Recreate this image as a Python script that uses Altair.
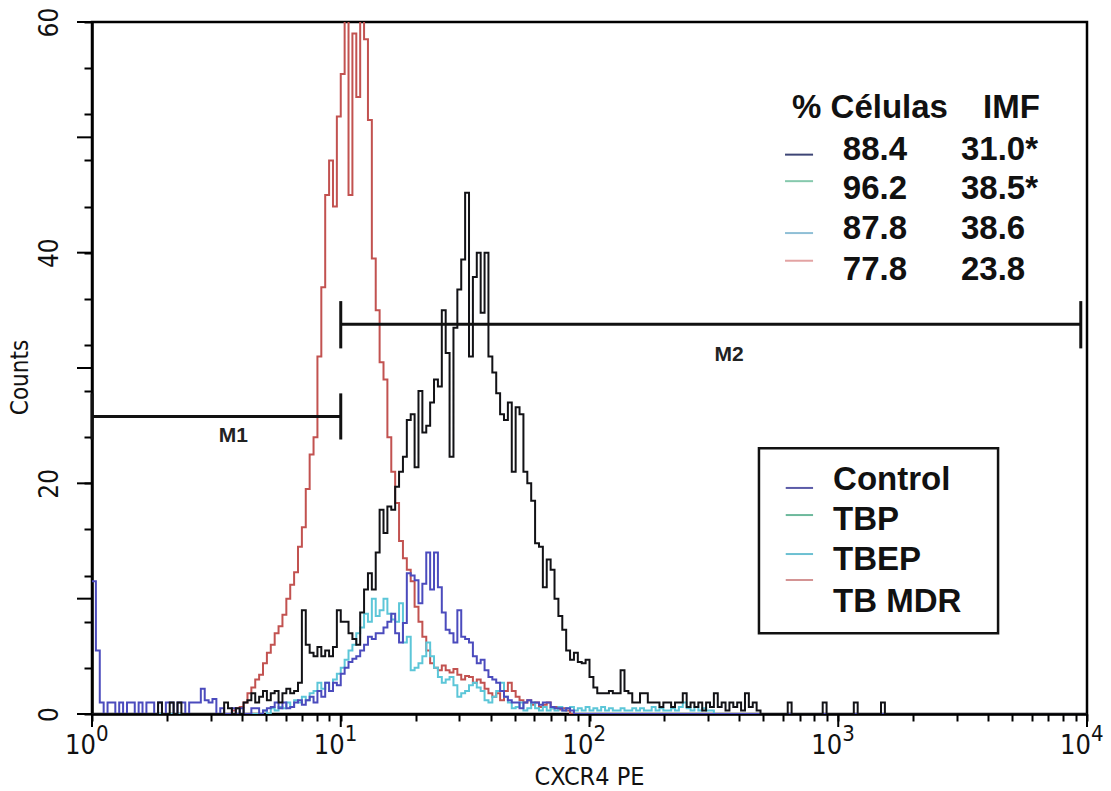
import altair as alt
import pandas as pd

# ---- histogram layout: 256 channels over four log decades ----
CH_PER_DECADE = 64
N_CH = 256

# Counts per channel, each series given from a starting channel
black_start = 16
black_counts = [
    0, 1, 0, 0, 1, 0, 1, 0, 0, 0, 0, 0, 0, 0, 0, 0, 0, 0, 1, 0.5,   # 16-35
    0, 0.5, 0, 1.0,                                                   # 36-39
    1.2, 1.8, 1.0, 1.5, 2.0, 1.2, 1.8, 2.0, 1.0, 1.8,                 # 40-49
    2.2, 1.8, 2.0, 2.7, 9.0, 6.0, 5.3, 5.0, 5.8, 5.0,                 # 50-59
    5.5, 5.0, 5.8, 9.0, 8.0, 8.0, 7.0, 6.5, 6.0, 8.8,                 # 60-69
    10.8, 12.2, 10.8, 14.0, 17.7, 15.7, 18.0, 17.7, 19.7, 21.0,       # 70-79
    22.3, 25.5, 26.0, 21.4, 28.0, 24.4, 25.0, 27.0, 29.0, 28.4,       # 80-89
    35.0, 31.3, 22.3, 33.5, 36.8, 39.4, 45.2, 31.0, 37.9, 40.0,       # 90-99
    34.8, 40.0, 31.0, 29.6, 27.8, 26.0, 25.5, 27.0, 21.0, 26.6,       # 100-109
    26.0, 21.0, 20.0, 18.5, 14.8, 14.5, 11.0, 13.4, 12.5, 10.0,       # 110-119
    8.5, 7.3, 5.5, 4.7, 5.3, 4.5, 4.4, 4.7, 3.2, 2.3,                 # 120-129
    1.8, 1.8, 1.8, 2.0, 1.8, 1.8, 3.8, 2.0, 1.8, 1.0,                 # 130-139
    1.0, 1.8, 1.8, 1.0, 1.0, 1.0, 0.6, 1.0, 1.0, 0.6,                 # 140-149
    1.0, 1.0, 1.8, 0.6, 1.0, 0.6, 1.0, 0.3, 1.0, 0.6,                 # 150-159
    1.8, 0.6, 1.0, 0.3, 1.0, 0.6, 1.0, 0.3, 1.8, 0.6,                 # 160-169
    1.0, 0.3,                                                         # 170-171
]
black_spike_ch = [179, 188, 196, 203]
black_spike_counts = [1.0, 1.0, 1.0, 1.0]

blue_start = 0
blue_counts = [
    11.5, 5.5, 1, 0, 1, 1, 0, 1, 0, 1,                                # 0-9
    1, 0, 1, 0, 1, 1, 0, 1, 0, 1,                                     # 10-19
    1, 0, 1, 1, 0, 1, 1, 1, 2.2, 1.2,                                 # 20-29
    1, 1.3, 0, 0.5, 0, 0, 0.5, 0, 0.5, 0,                             # 30-39
    0, 0.5, 0.5, 0, 0.3, 0.5, 0.6, 1.0, 0.5, 1.0,                     # 40-49
    0.5, 0.6, 1.0, 1.2, 0.8, 1.2, 1.5, 1.0, 2.0, 1.5,                 # 50-59
    2.7, 2.0, 2.7, 2.5, 3.5, 4.0, 4.5, 4.8, 5.0, 5.5,                 # 60-69
    6.0, 6.7, 6.5, 7.0, 7.0, 7.5, 8.0, 8.7, 7.0, 6.2,                 # 70-79
    7.9, 12.2, 12.0, 11.6, 9.6, 11.3, 14.0, 10.8, 14.0, 11.0,         # 80-89
    8.8, 7.3, 7.0, 6.2, 9.0, 6.7, 6.5, 6.2, 5.0, 4.4,                 # 90-99
    4.7, 3.8, 3.2, 3.0, 2.7, 2.0, 1.5, 1.2, 1.0, 1.0,                 # 100-109
    0.5, 1.0, 1.2, 1.0, 1.0, 0.8, 1.0, 1.0, 0.6, 0.5,                 # 110-119
    0.5, 0.3, 0.5, 0.3,                                               # 120-123
]

cyan_start = 44
cyan_counts = [
    0.3, 0, 0.5, 0.3, 0.6, 0.5,                                       # 44-49
    1.0, 0.6, 1.2, 1.0, 1.5, 1.2, 1.8, 2.0, 2.7, 2.2,                 # 50-59
    2.7, 2.0, 3.0, 3.5, 4.0, 4.7, 5.5, 6.0, 7.0, 7.5,                 # 60-69
    8.7, 8.0, 10.0, 8.5, 9.0, 10.0, 8.7, 8.2, 8.0, 9.6,               # 70-79
    6.2, 6.7, 3.8, 4.0, 4.4, 5.0, 6.2, 5.0, 4.0, 3.2,                 # 80-89
    2.7, 3.0, 3.2, 2.5, 1.5, 1.8, 2.0, 2.5, 2.7, 2.3,                 # 90-99
    2.0, 1.2, 1.0, 1.5, 2.0, 2.7, 1.5, 1.0, 0.5, 0.6,                 # 100-109
    1.0, 0.3, 0.5, 1.0, 0.5, 0.3, 0.6, 0.3, 0.5, 0.3,                 # 110-119
    0.6, 0.3, 0.5, 0.6, 0.3, 0.5, 0.3, 0.6, 0.3, 0.5,                 # 120-129
    0.3, 0.6, 0.3, 0.5, 0.3, 0.3, 0.5, 0.3, 0.3, 0.5,                 # 130-139
    0.3, 0.5, 0.3, 0.3, 0.6, 0.3, 0.5, 0.3, 0.3, 0.5,                 # 140-149
    0.3, 0.6, 1.0, 0.5, 0.3, 0.6, 0.3, 0.5, 0.3, 0.3,                 # 150-159
]

red_start = 36
red_counts = [
    0.3, 0.5, 0.6, 1.0,                                               # 36-39
    1.8, 2.3, 3.0, 3.4, 4.4, 5.3, 6.0, 7.0, 7.6, 8.6,                 # 40-49
    10.0, 11.2, 12.3, 14.5, 16.2, 19.5, 22.5, 24.0, 31.0, 37.0,       # 50-59
    45.0, 48.0, 44.0, 51.8, 55.5, 62.0, 45.0, 59.0, 53.5, 62.0,       # 60-69
    58.5, 51.5, 39.5, 35.0, 30.5, 29.0, 24.0, 21.0, 18.3, 15.0,       # 70-79
    13.5, 12.5, 11.5, 9.3, 8.0, 6.7, 5.5, 4.4, 4.0, 3.8,              # 80-89
    4.2, 3.8, 3.6, 3.9, 3.4, 3.0, 3.3, 3.2, 2.7, 3.0,                 # 90-99
    2.7, 2.2, 1.8, 1.5, 1.8, 1.2, 2.0, 2.7, 2.0, 1.5,                 # 100-109
    1.2, 1.0, 1.2, 0.8, 1.0, 0.6, 0.8, 1.0, 0.5, 0.6,                 # 110-119
    0.4, 0.5, 0.3,                                                    # 120-122
]

series_names = ["TB MDR", "TBEP", "Control", "TBP"]
series_colors = ["#c25250", "#5cc6d8", "#4b4bbd", "#121216"]
series_widths = [2.0, 2.0, 2.0, 2.8]


def full_histogram(start, values, spike_ch=(), spike_counts=()):
    h = [0.0] * N_CH
    for i, v in enumerate(values):
        h[start + i] = v
    for c, v in zip(spike_ch, spike_counts):
        h[c] = v
    return h


hists = {
    "TB MDR": full_histogram(red_start, red_counts),
    "TBEP": full_histogram(cyan_start, cyan_counts),
    "Control": full_histogram(blue_start, blue_counts),
    "TBP": full_histogram(black_start, black_counts, black_spike_ch, black_spike_counts),
}

rows = []
for order, name in enumerate(series_names):
    h = hists[name]
    for ch in range(N_CH + 1):
        rows.append({
            "serie": name,
            "orden": order,
            "fluor": 10 ** (ch / CH_PER_DECADE),
            "count": h[min(ch, N_CH - 1)],
        })
hist_df = pd.DataFrame(rows)

# ---- axes ----
FONT = "Liberation Sans Narrow, Arial Narrow, DejaVu Sans Condensed, Liberation Sans, Arial, sans-serif"
BOLD = "Liberation Sans, Arial, Helvetica, sans-serif"

x_ticks = [m * 10 ** k for k in range(4) for m in range(1, 10)] + [10000]
y_ticks = list(range(0, 61, 2))
decades = [1, 10, 100, 1000, 10000]
exponents = ["0", "1", "2", "3", "4"]
y_majors = list(range(0, 61, 10))

x_scale = alt.Scale(type="log", domain=[1, 10000], nice=False)
y_scale = alt.Scale(domain=[0, 60], nice=False, zero=False)

x_enc = alt.X(
    "fluor:Q", scale=x_scale,
    axis=alt.Axis(
        values=x_ticks, labels=False, grid=False,
        title="CXCR4 PE", titleFont=FONT, titleFontSize=25, titleFontWeight="normal",
        titleColor="#111", titleX=497, titleY=75, titleAlign="center", titleBaseline="bottom",
        domainColor="#000", domainWidth=2.5, tickColor="#000", tickWidth=2, tickSize=7,
    ),
)
y_enc = alt.Y(
    "count:Q", scale=y_scale,
    axis=alt.Axis(
        values=y_ticks, grid=False,
        labelExpr="datum.value % 10 === 0 ? datum.label : ''",
        labelAngle=270, labelAlign="center", labelBaseline="bottom",
        labelFont=FONT, labelFontSize=26, labelColor="#111", labelPadding=22,
        labelFlush=False, labelOverlap=False,
        title="Counts", titleFont=FONT, titleFontSize=24, titleFontWeight="normal",
        titleColor="#111", titleAngle=270, titleX=-60, titleY=355,
        titleAlign="center", titleBaseline="bottom",
        domainColor="#000", domainWidth=2.5, tickColor="#000", tickWidth=2, tickSize=8,
    ),
)

lines = alt.Chart(hist_df).mark_line(interpolate="step-after", clip=True).encode(
    x=x_enc,
    y=y_enc,
    color=alt.Color("serie:N", scale=alt.Scale(domain=series_names, range=series_colors), legend=None),
    strokeWidth=alt.StrokeWidth("serie:N", scale=alt.Scale(domain=series_names, range=series_widths), legend=None),
    order=alt.Order("orden:Q"),
    detail="serie:N",
)

# ---- longer ticks at the labelled values ----
ymaj_df = pd.DataFrame({"count": y_majors})
y_major_ticks = alt.Chart(ymaj_df).mark_rule(color="#000", strokeWidth=2).encode(
    y="count:Q", x=alt.value(-15), x2=alt.value(0))
xmaj_df = pd.DataFrame({"fluor": decades})
x_major_ticks = alt.Chart(xmaj_df).mark_rule(color="#000", strokeWidth=2).encode(
    x="fluor:Q", y=alt.value(692), y2=alt.value(705))

# ---- x tick labels drawn as 10 with a raised exponent ----
dec_df = pd.DataFrame({"fluor": decades, "base": ["10"] * 5, "exp": exponents})
lab_base = alt.Chart(dec_df).mark_text(
    align="right", baseline="alphabetic", dx=4, dy=40, font=FONT, fontSize=27, color="#111"
).encode(x="fluor:Q", y=alt.datum(0), text="base:N")
lab_exp = alt.Chart(dec_df).mark_text(
    align="left", baseline="alphabetic", dx=4, dy=27, font=FONT, fontSize=22, color="#111"
).encode(x="fluor:Q", y=alt.datum(0), text="exp:N")

# ---- M1 / M2 marker gates ----
gate_names = ["M1", "M2"]
gate_lo = [1.0, 10.0]
gate_hi = [10.0, 9440.0]
gate_level = [25.8, 33.8]
gate_cap_lo = [23.8, 31.7]
gate_cap_hi = [27.8, 35.8]
gate_label_x = [3.7, 364.0]
gate_label_y = [23.6, 30.6]

gate_df = pd.DataFrame({"fluor": gate_lo, "fluor2": gate_hi, "count": gate_level})
caps_df = pd.DataFrame({
    "fluor": gate_lo + gate_hi,
    "count": gate_cap_lo + gate_cap_lo,
    "count2": gate_cap_hi + gate_cap_hi,
})
gate_lbl_df = pd.DataFrame({"fluor": gate_label_x, "count": gate_label_y, "txt": gate_names})

gate_rules = alt.Chart(gate_df).mark_rule(color="#111", strokeWidth=3).encode(
    x="fluor:Q", x2="fluor2:Q", y="count:Q")
gate_caps = alt.Chart(caps_df).mark_rule(color="#111", strokeWidth=3).encode(
    x="fluor:Q", y="count:Q", y2="count2:Q")
gate_text = alt.Chart(gate_lbl_df).mark_text(
    font=BOLD, fontSize=21, fontWeight="bold", color="#222", align="center", baseline="alphabetic"
).encode(x="fluor:Q", y="count:Q", text="txt:N")

# ---- statistics table ----
pct_cells = ["88.4", "96.2", "87.8", "77.8"]
imf_vals = ["31.0*", "38.5*", "38.6", "23.8"]
row_y = [48.05, 44.67, 41.2, 37.6]
row_mark_y = [48.5, 46.2, 41.7, 39.3]
row_colors = ["#3d4575", "#86c9ad", "#8fbfd6", "#e3a3a3"]

hdr_df = pd.DataFrame({"fluor": [652.0, 3820.0], "count": [51.7, 51.7], "txt": ["% Células", "IMF"]})
pct_df = pd.DataFrame({"fluor": [1890.0] * 4, "count": row_y, "txt": pct_cells})
imf_df = pd.DataFrame({"fluor": [3115.0] * 4, "count": row_y, "txt": imf_vals})
tmark_df = pd.DataFrame({"fluor": [611.0] * 4, "fluor2": [792.0] * 4, "count": row_mark_y, "col": row_colors})

txt_kw = dict(font=BOLD, fontSize=33, fontWeight="bold", color="#111", baseline="alphabetic")
hdr = alt.Chart(hdr_df).mark_text(align="left", **txt_kw).encode(x="fluor:Q", y="count:Q", text="txt:N")
pct = alt.Chart(pct_df).mark_text(align="right", **txt_kw).encode(x="fluor:Q", y="count:Q", text="txt:N")
imf = alt.Chart(imf_df).mark_text(align="left", **txt_kw).encode(x="fluor:Q", y="count:Q", text="txt:N")
tmarks = alt.Chart(tmark_df).mark_rule(strokeWidth=2).encode(
    x="fluor:Q", x2="fluor2:Q", y="count:Q", color=alt.Color("col:N", scale=None))

# ---- boxed legend ----
leg_names = ["Control", "TBP", "TBEP", "TB MDR"]
leg_colors = ["#5b5ba8", "#6db99c", "#6cc0d2", "#d49494"]
leg_text_y = [19.42, 15.95, 12.49, 8.84]
leg_mark_y = [19.6, 17.25, 13.87, 11.62]

box_df = pd.DataFrame({"fluor": [480.0], "fluor2": [4390.0], "count": [7.0], "count2": [23.05]})
leg_txt_df = pd.DataFrame({"fluor": [953.0] * 4, "count": leg_text_y, "txt": leg_names})
leg_mk_df = pd.DataFrame({"fluor": [615.0] * 4, "fluor2": [792.0] * 4, "count": leg_mark_y, "col": leg_colors})

box = alt.Chart(box_df).mark_rect(fillOpacity=0, stroke="#111", strokeWidth=2.5).encode(
    x="fluor:Q", x2="fluor2:Q", y="count:Q", y2="count2:Q")
leg_txt = alt.Chart(leg_txt_df).mark_text(align="left", **txt_kw).encode(
    x="fluor:Q", y="count:Q", text="txt:N")
leg_mk = alt.Chart(leg_mk_df).mark_rule(strokeWidth=2).encode(
    x="fluor:Q", x2="fluor2:Q", y="count:Q", color=alt.Color("col:N", scale=None))

chart = alt.layer(
    lines, y_major_ticks, x_major_ticks,
    gate_rules, gate_caps, gate_text,
    hdr, pct, imf, tmarks, box, leg_txt, leg_mk,
    lab_base, lab_exp,
).resolve_scale(color="independent").properties(
    width=995, height=692,
    autosize=alt.AutoSizeParams(type="none"),
    padding={"left": 92, "top": 22, "right": 24, "bottom": 77},
    background="white",
).configure_view(stroke="#000", strokeWidth=2.5)

chart.save("out.html", embed_options={"renderer": "svg", "actions": False})
